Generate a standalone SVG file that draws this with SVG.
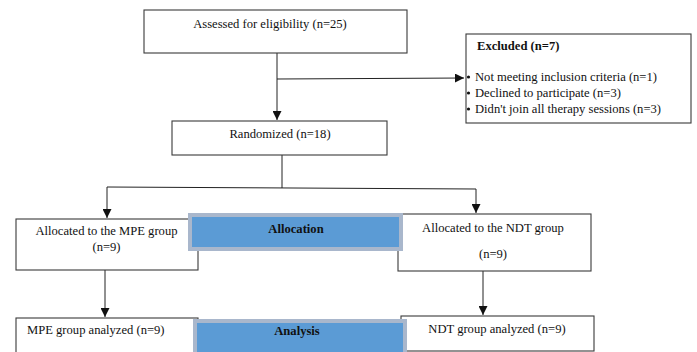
<svg xmlns="http://www.w3.org/2000/svg" width="697" height="352" viewBox="0 0 697 352">
<style>
.box{fill:#fff;stroke:#3a3a3a;stroke-width:1.1}
.bar{fill:#5B9BD5;stroke:#A9B7CC;stroke-width:4}
.t{font-family:"Liberation Serif",serif;font-size:12.6px;fill:#111}
.c{text-anchor:middle}
.b{font-weight:bold}
.ln{fill:none;stroke:#222;stroke-width:1}
</style>
<defs>
<marker id="ah" viewBox="0 0 10 10" refX="10" refY="5" markerWidth="9" markerHeight="9" markerUnits="userSpaceOnUse" orient="auto">
<path d="M0,0 L10,5 L0,10 Z" fill="#111"/>
</marker>
</defs>
<g id="connectors">
<path class="ln" d="M277,53 V120" marker-end="url(#ah)"/>
<path class="ln" d="M277,79 L464,78" marker-end="url(#ah)"/>
<path class="ln" d="M282,155 V188"/>
<path class="ln" d="M107,187 L476,189"/>
<path class="ln" d="M107,187 V218" marker-end="url(#ah)"/>
<path class="ln" d="M476,189 V213" marker-end="url(#ah)"/>
<path class="ln" d="M105,270 V317" marker-end="url(#ah)"/>
<path class="ln" d="M483,271 V315" marker-end="url(#ah)"/>
</g>
<g id="assessed">
<rect class="box" x="144" y="10" width="263" height="43"/>
<text class="t c" x="270" y="28">Assessed for eligibility (n=25)</text>
</g>
<g id="excluded">
<rect class="box" x="466" y="34" width="225" height="89"/>
<text class="t b" x="477" y="50">Excluded (n=7)</text>
<circle cx="468.5" cy="77" r="1.6" fill="#111"/>
<text class="t" x="475" y="81">Not meeting inclusion criteria (n=1)</text>
<circle cx="468.5" cy="93" r="1.6" fill="#111"/>
<text class="t" x="475" y="97">Declined to participate (n=3)</text>
<circle cx="468.5" cy="109" r="1.6" fill="#111"/>
<text class="t" x="475" y="113">Didn't join all therapy sessions (n=3)</text>
</g>
<g id="randomized">
<rect class="box" x="172" y="121" width="215" height="34"/>
<text class="t c" x="280" y="138">Randomized (n=18)</text>
</g>
<g id="mpe-alloc">
<rect class="box" x="16" y="219" width="182" height="51"/>
<text class="t c" x="106.5" y="235">Allocated to the MPE group</text>
<text class="t c" x="106.5" y="251">(n=9)</text>
</g>
<g id="ndt-alloc">
<rect class="box" x="398" y="214" width="193" height="57"/>
<text class="t c" x="493" y="232">Allocated to the NDT group</text>
<text class="t c" x="493" y="258">(n=9)</text>
</g>
<g id="allocation">
<rect class="bar" x="190" y="215" width="211" height="34"/>
<text class="t c b" x="296" y="233">Allocation</text>
</g>
<g id="mpe-analyzed">
<rect class="box" x="16" y="318" width="182" height="45"/>
<text class="t" x="27" y="334">MPE group analyzed (n=9)</text>
</g>
<g id="ndt-analyzed">
<rect class="box" x="401" y="316" width="193" height="35"/>
<text class="t c" x="497" y="333">NDT group analyzed (n=9)</text>
</g>
<g id="analysis">
<rect class="bar" x="195" y="321" width="210" height="40"/>
<text class="t c b" x="297" y="335">Analysis</text>
</g>
</svg>
